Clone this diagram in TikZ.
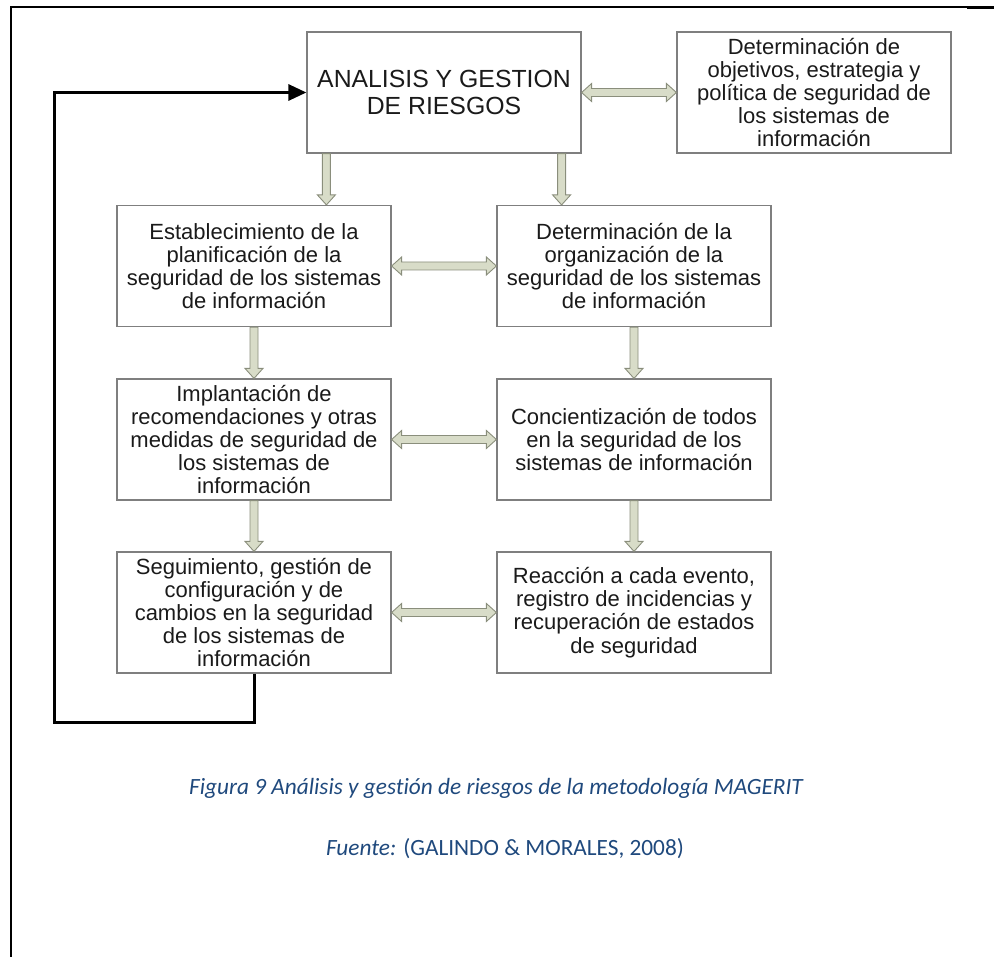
\documentclass[tikz,border=0pt]{standalone}
\usepackage{fontspec}
\setmainfont{Liberation Sans}
\newfontfamily\captionfont[Ligatures=NoCommon]{Carlito}
\usetikzlibrary{calc,arrows.meta}
\definecolor{boxline}{HTML}{7F7F7F}
\definecolor{arrowfill}{HTML}{D8DCC8}
\definecolor{arrowline}{HTML}{8A8E7C}
\definecolor{boxtext}{HTML}{1A1A1A}
\definecolor{captionblue}{HTML}{1F497D}
\tikzset{
  procbox/.style={draw=boxline, line width=1.2pt, minimum width=274pt, minimum height=121pt,
                  align=center, inner sep=2pt, text=boxtext, font=\fontsize{22}{23.2}\selectfont},
  headbox/.style={procbox, font=\fontsize{24.8}{27}\selectfont},
  fatarrow/.style={draw=arrowline, fill=arrowfill, line width=0.9pt, line join=miter},
  loopline/.style={line width=3pt, -{Triangle[length=18pt,width=16pt]}},
  caption/.style={text=captionblue, font=\captionfont\fontsize{23.3}{26}\selectfont}
}
\newcommand{\onearrow}[2]{\coordinate (tipback) at ($(#2)!10pt!(#1)$);
        \draw[fatarrow] ($(#1)!4pt!90:(#2)$) -- ($(tipback)!4pt!90:(#2)$) -- ($(tipback)!9pt!90:(#2)$)
                -- (#2) -- ($(tipback)!9pt!-90:(#2)$) -- ($(tipback)!4pt!-90:(#2)$) -- ($(#1)!4pt!-90:(#2)$) -- cycle;}
\newcommand{\twoarrow}[2]{\coordinate (tipback) at ($(#2)!10pt!(#1)$);
        \coordinate (tailback) at ($(#1)!10pt!(#2)$);
        \draw[fatarrow] (#1) -- ($(tailback)!9pt!90:(#2)$) -- ($(tailback)!4pt!90:(#2)$) -- ($(tipback)!4pt!90:(#2)$)
                -- ($(tipback)!9pt!90:(#2)$) -- (#2) -- ($(tipback)!9pt!-90:(#2)$) -- ($(tipback)!4pt!-90:(#2)$)
                -- ($(tailback)!4pt!-90:(#2)$) -- ($(tailback)!9pt!-90:(#2)$) -- cycle;}

\begin{document}
\begin{tikzpicture}[x=1pt, y=-1pt]
        \useasboundingbox (0,0) rectangle (994,957);

        % page frame
        \draw[line width=1.5pt] (11,957) -- (11,7) -- (994,7);
        \draw[line width=3pt] (967,7.5) -- (994,7.5);

        % boxes
        \node[headbox] (ana) at (444,92.5) {ANALISIS Y GESTION\\DE RIESGOS};
        \node[procbox] (obj) at (814,92.5) {Determinación de\\objetivos, estrategia y\\política de seguridad de\\los sistemas de\\información};

        \node[procbox] (plan) at (254,266) {Establecimiento de la\\planificación de la\\seguridad de los sistemas\\de información};
        \node[procbox] (org) at (634,266) {Determinación de la\\organización de la\\seguridad de los sistemas\\de información};

        \node[procbox] (impl) at (254,439.5) {Implantación de\\recomendaciones y otras\\medidas de seguridad de\\los sistemas de\\información};
        \node[procbox] (conc) at (634,439.5) {Concientización de todos\\en la seguridad de los\\sistemas de información};

        \node[procbox] (seg) at (254,612.5) {Seguimiento, gestión de\\configuración y de\\cambios en la seguridad\\de los sistemas de\\información};
        \node[procbox] (reac) at (634,612.5) {Reacción a cada evento,\\registro de incidencias y\\recuperación de estados\\de seguridad};

        % big arrows
        \coordinate (anaL) at ($(ana.south west)+(20,0)$);
        \coordinate (anaR) at ($(ana.south east)+(-20,0)$);
        \coordinate (planT) at (anaL |- plan.north);
        \coordinate (orgT) at (anaR |- org.north);
        \onearrow{anaL}{planT}
        \onearrow{anaR}{orgT}
        \onearrow{plan.south}{impl.north}
        \onearrow{impl.south}{seg.north}
        \onearrow{org.south}{conc.north}
        \onearrow{conc.south}{reac.north}

        \twoarrow{ana.east}{obj.west}
        \twoarrow{plan.east}{org.west}
        \twoarrow{impl.east}{conc.west}
        \twoarrow{seg.east}{reac.west}

        % feedback loop
        \coordinate (loopbend) at (54,722);
        \draw[loopline] (seg.south) |- (loopbend) |- (ana.west);

        % caption
        \node[caption] (cap) at (496,788) {\itshape Figura 9 Análisis y gestión de riesgos de la metodología MAGERIT};
        \node[caption] (src) at (505,849) {{\itshape Fuente:} (GALINDO \& MORALES, 2008)};
\end{tikzpicture}
\end{document}
